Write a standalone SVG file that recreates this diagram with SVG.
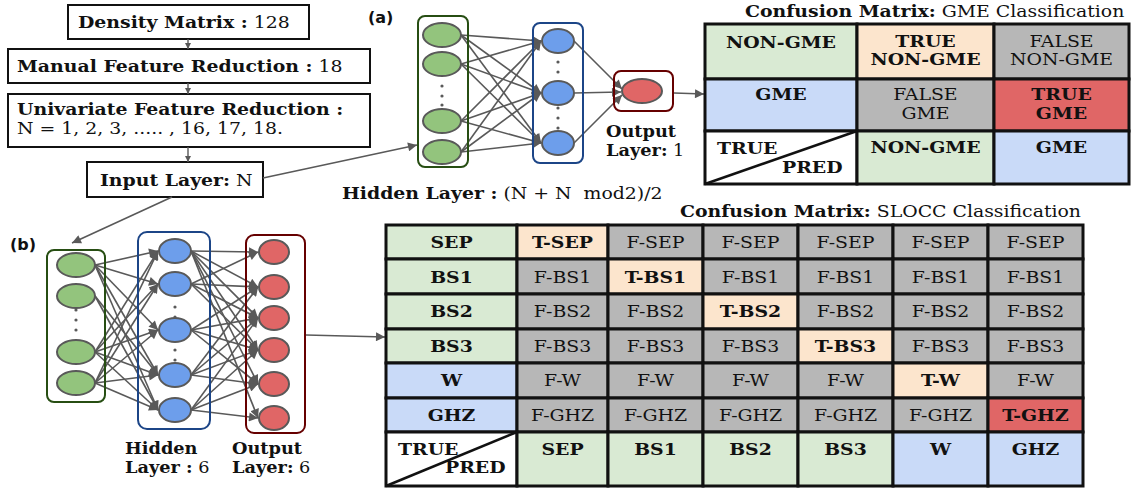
<svg xmlns="http://www.w3.org/2000/svg" width="1133" height="490" viewBox="0 0 1133 490">
<style>
.t{font-family:"DejaVu Serif",serif;font-size:17px;fill:#111}
.s{font-size:16px}
.b{font-weight:bold}
.c{text-anchor:middle}
.lab{font-family:"DejaVu Sans",sans-serif;font-size:16px;font-weight:bold;fill:#111}
.box{fill:#fff;stroke:#111;stroke-width:2}
.e{stroke:#595959;stroke-width:1.6;fill:none;marker-end:url(#ah)}
.f{stroke:#595959;stroke-width:1.4;fill:none;marker-end:url(#ahs)}
.ng{fill:#93c47d;stroke:#595959;stroke-width:2}
.nb{fill:#6d9eeb;stroke:#595959;stroke-width:2}
.nr{fill:#e06666;stroke:#595959;stroke-width:2}
.gb{fill:none;stroke:#274e13;stroke-width:2}
.bb{fill:none;stroke:#1c4587;stroke-width:2}
.rb{fill:none;stroke:#660000;stroke-width:2}
.dot{fill:#595959}
.cell{stroke:#111;stroke-width:3}
.G{fill:#d9ead3}.P{fill:#fce5cd}.Y{fill:#b7b7b7}.B{fill:#c9daf8}.R{fill:#e06666}.W{fill:#fff}
</style>
<defs>
<marker id="ah" viewBox="0 0 10 10" refX="10" refY="5" markerWidth="12" markerHeight="9" markerUnits="userSpaceOnUse" orient="auto"><path d="M0,0 L10,5 L0,10 z" fill="#595959"/></marker>
<marker id="ahs" viewBox="0 0 10 10" refX="10" refY="5" markerWidth="6" markerHeight="6" markerUnits="userSpaceOnUse" orient="auto"><path d="M0,0 L10,5 L0,10 z" fill="#595959"/></marker>
</defs>

<g id="density"><rect class="box" x="68" y="5" width="241" height="34"/><g transform="scale(1.11,1)"><text class="t" x="70.27" y="28"><tspan class="b">Density Matrix :</tspan> 128</text></g></g>
<g id="manual"><rect class="box" x="8" y="49" width="362" height="34"/><g transform="scale(1.11,1)"><text class="t" x="15.32" y="72"><tspan class="b">Manual Feature Reduction :</tspan> 18</text></g></g>
<g id="univariate"><rect class="box" x="8" y="94" width="362" height="53"/><g transform="scale(1.11,1)"><text class="t" x="15.32" y="115"><tspan class="b">Univariate Feature Reduction :</tspan><tspan x="15.32" y="134">N = 1, 2, 3, ..... , 16, 17, 18.</tspan></text></g></g>
<g id="input"><rect class="box" x="87" y="162" width="176" height="35"/><g transform="scale(1.11,1)"><text class="t" x="90.09" y="186"><tspan class="b">Input Layer:</tspan> N</text></g></g>

<text class="lab" x="368" y="23">(a)</text>
<text class="lab" x="10" y="250">(b)</text>

<g id="connectors">
<line class="f" x1="188" y1="39" x2="188" y2="49"/>
<line class="f" x1="188" y1="83" x2="188" y2="94"/>
<line class="f" x1="188" y1="147" x2="188" y2="162"/>
<line class="e" x1="263" y1="178" x2="417" y2="145"/>
<line class="e" x1="172" y1="197" x2="72" y2="243"/>
<line class="e" x1="674" y1="93" x2="704" y2="94"/>
<line class="e" x1="306" y1="335" x2="385" y2="337"/>
<line class="e" x1="461" y1="35" x2="541" y2="41"/><line class="e" x1="461" y1="35" x2="541" y2="93"/><line class="e" x1="461" y1="35" x2="541" y2="143"/>
<line class="e" x1="461" y1="64" x2="541" y2="41"/><line class="e" x1="461" y1="64" x2="541" y2="93"/><line class="e" x1="461" y1="64" x2="541" y2="143"/>
<line class="e" x1="461" y1="121" x2="541" y2="41"/><line class="e" x1="461" y1="121" x2="541" y2="93"/><line class="e" x1="461" y1="121" x2="541" y2="143"/>
<line class="e" x1="461" y1="152" x2="541" y2="41"/><line class="e" x1="461" y1="152" x2="541" y2="93"/><line class="e" x1="461" y1="152" x2="541" y2="143"/>
<line class="e" x1="574" y1="41" x2="622" y2="89"/><line class="e" x1="574" y1="93" x2="621" y2="92"/><line class="e" x1="574" y1="143" x2="622" y2="95"/>
<line class="e" x1="95" y1="265" x2="158" y2="251"/><line class="e" x1="95" y1="265" x2="158" y2="284"/><line class="e" x1="95" y1="265" x2="158" y2="330"/><line class="e" x1="95" y1="265" x2="158" y2="375"/><line class="e" x1="95" y1="265" x2="158" y2="410"/>
<line class="e" x1="95" y1="296" x2="158" y2="375"/><line class="e" x1="95" y1="296" x2="158" y2="410"/>
<line class="e" x1="95" y1="352" x2="158" y2="251"/><line class="e" x1="95" y1="352" x2="158" y2="284"/><line class="e" x1="95" y1="352" x2="158" y2="330"/><line class="e" x1="95" y1="352" x2="158" y2="375"/><line class="e" x1="95" y1="352" x2="158" y2="410"/>
<line class="e" x1="95" y1="383" x2="158" y2="251"/><line class="e" x1="95" y1="383" x2="158" y2="284"/><line class="e" x1="95" y1="383" x2="158" y2="330"/><line class="e" x1="95" y1="383" x2="158" y2="375"/><line class="e" x1="95" y1="383" x2="158" y2="410"/>
<line class="e" x1="191" y1="251" x2="258" y2="252"/><line class="e" x1="191" y1="251" x2="258" y2="287"/><line class="e" x1="191" y1="251" x2="258" y2="318"/><line class="e" x1="191" y1="251" x2="258" y2="350"/><line class="e" x1="191" y1="251" x2="258" y2="384"/><line class="e" x1="191" y1="251" x2="258" y2="418"/>
<line class="e" x1="191" y1="284" x2="258" y2="252"/><line class="e" x1="191" y1="284" x2="258" y2="287"/><line class="e" x1="191" y1="284" x2="258" y2="318"/><line class="e" x1="191" y1="284" x2="258" y2="350"/>
<line class="e" x1="191" y1="330" x2="258" y2="287"/><line class="e" x1="191" y1="330" x2="258" y2="318"/><line class="e" x1="191" y1="330" x2="258" y2="350"/><line class="e" x1="191" y1="330" x2="258" y2="384"/>
<line class="e" x1="191" y1="375" x2="258" y2="287"/><line class="e" x1="191" y1="375" x2="258" y2="318"/><line class="e" x1="191" y1="375" x2="258" y2="350"/><line class="e" x1="191" y1="375" x2="258" y2="384"/>
<line class="e" x1="191" y1="410" x2="258" y2="318"/><line class="e" x1="191" y1="410" x2="258" y2="350"/><line class="e" x1="191" y1="410" x2="258" y2="384"/><line class="e" x1="191" y1="410" x2="258" y2="418"/>
</g>

<g id="net-a-input"><rect class="gb" x="418" y="16" width="50" height="151" rx="7"/>
<ellipse class="ng" cx="442" cy="35" rx="19" ry="12"/><ellipse class="ng" cx="442" cy="64" rx="19" ry="12"/><ellipse class="ng" cx="442" cy="121" rx="19" ry="12"/><ellipse class="ng" cx="442" cy="152" rx="19" ry="12"/>
<circle class="dot" cx="442" cy="86" r="1.6"/><circle class="dot" cx="442" cy="96" r="1.6"/><circle class="dot" cx="442" cy="105" r="1.6"/></g>
<g id="net-a-hidden"><rect class="bb" x="533" y="23" width="50" height="140" rx="7"/>
<ellipse class="nb" cx="558" cy="41" rx="16" ry="12"/><ellipse class="nb" cx="558" cy="93" rx="16" ry="12"/><ellipse class="nb" cx="558" cy="143" rx="16" ry="12"/>
<circle class="dot" cx="558" cy="62" r="1.6"/><circle class="dot" cx="558" cy="72" r="1.6"/><circle class="dot" cx="558" cy="108" r="1.6"/><circle class="dot" cx="558" cy="118" r="1.6"/><circle class="dot" cx="558" cy="128" r="1.6"/>
<g transform="scale(1.11,1)"><text class="t" x="308.11" y="199" xml:space="preserve"><tspan class="b">Hidden Layer :</tspan> (N + N  mod2)/2</text></g></g>
<g id="net-a-output"><rect class="rb" x="614" y="71" width="59" height="40" rx="7"/><ellipse class="nr" cx="642" cy="91" rx="20" ry="12"/>
<g transform="scale(1.11,1)"><text class="t s" x="545.95" y="137"><tspan class="b">Output</tspan><tspan x="545.95" y="156" class="b">Layer:</tspan> 1</text></g></g>

<g id="net-b-input"><rect class="gb" x="47" y="250" width="58" height="152" rx="7"/>
<ellipse class="ng" cx="76" cy="265" rx="19" ry="12"/><ellipse class="ng" cx="76" cy="296" rx="19" ry="12"/><ellipse class="ng" cx="76" cy="352" rx="19" ry="12"/><ellipse class="ng" cx="76" cy="383" rx="19" ry="12"/>
<circle class="dot" cx="76" cy="310" r="1.6"/><circle class="dot" cx="76" cy="320" r="1.6"/><circle class="dot" cx="76" cy="330" r="1.6"/></g>
<g id="net-b-hidden"><rect class="bb" x="138" y="232" width="72" height="197" rx="9"/>
<ellipse class="nb" cx="175" cy="251" rx="16" ry="12"/><ellipse class="nb" cx="175" cy="284" rx="16" ry="12"/><ellipse class="nb" cx="175" cy="330" rx="16" ry="12"/><ellipse class="nb" cx="175" cy="375" rx="16" ry="12"/><ellipse class="nb" cx="175" cy="410" rx="16" ry="12"/>
<circle class="dot" cx="175" cy="307" r="1.6"/><circle class="dot" cx="175" cy="317" r="1.6"/><circle class="dot" cx="175" cy="350" r="1.6"/><circle class="dot" cx="175" cy="360" r="1.6"/>
<g transform="scale(1.11,1)"><text class="t s" x="112.61" y="454"><tspan class="b">Hidden</tspan><tspan x="112.61" y="473" class="b">Layer :</tspan> 6</text></g></g>
<g id="net-b-output"><rect class="rb" x="246" y="235" width="59" height="198" rx="8"/>
<ellipse class="nr" cx="274" cy="252" rx="15" ry="12"/><ellipse class="nr" cx="274" cy="287" rx="15" ry="12"/><ellipse class="nr" cx="274" cy="318" rx="15" ry="12"/><ellipse class="nr" cx="274" cy="350" rx="15" ry="12"/><ellipse class="nr" cx="274" cy="384" rx="15" ry="12"/><ellipse class="nr" cx="274" cy="418" rx="15" ry="12"/>
<g transform="scale(1.11,1)"><text class="t s" x="209.01" y="454"><tspan class="b">Output</tspan><tspan x="209.01" y="473" class="b">Layer:</tspan> 6</text></g></g>

<g id="gme-matrix">
<rect class="cell G" x="705" y="24" width="152" height="55"/><rect class="cell P" x="857" y="24" width="137" height="55"/><rect class="cell Y" x="994" y="24" width="135" height="55"/>
<rect class="cell B" x="705" y="79" width="152" height="52"/><rect class="cell Y" x="857" y="79" width="137" height="52"/><rect class="cell R" x="994" y="79" width="135" height="52"/>
<rect class="cell W" x="705" y="131" width="152" height="53"/><rect class="cell G" x="857" y="131" width="137" height="53"/><rect class="cell B" x="994" y="131" width="135" height="53"/>
<line x1="705" y1="184" x2="857" y2="131" stroke="#111" stroke-width="2.5"/>
<g transform="scale(1.11,1)">
<text class="t" x="671.17" y="17"><tspan class="b">Confusion Matrix:</tspan> GME Classification</text>
<text class="t b c" x="703.6" y="48">NON-GME</text>
<text class="t b c" x="833.78" y="47">TRUE<tspan x="833.78" y="65">NON-GME</tspan></text>
<text class="t c" x="956.31" y="47">FALSE<tspan x="956.31" y="65">NON-GME</tspan></text>
<text class="t b c" x="703.6" y="100">GME</text>
<text class="t c" x="833.78" y="100">FALSE<tspan x="833.78" y="119">GME</tspan></text>
<text class="t b c" x="956.31" y="100">TRUE<tspan x="956.31" y="119">GME</tspan></text>
<text class="t b" x="645.95" y="154">TRUE<tspan x="704.5" y="173">PRED</tspan></text>
<text class="t b c" x="833.78" y="153">NON-GME</text>
<text class="t b c" x="956.31" y="153">GME</text>
</g>
</g>

<g id="slocc-matrix">
<rect class="cell G" x="386" y="225" width="131" height="34"/><rect class="cell P" x="517" y="225" width="91" height="34"/><rect class="cell Y" x="608" y="225" width="95" height="34"/><rect class="cell Y" x="703" y="225" width="95" height="34"/><rect class="cell Y" x="798" y="225" width="95" height="34"/><rect class="cell Y" x="893" y="225" width="95" height="34"/><rect class="cell Y" x="988" y="225" width="95" height="34"/>
<rect class="cell G" x="386" y="259" width="131" height="35"/><rect class="cell Y" x="517" y="259" width="91" height="35"/><rect class="cell P" x="608" y="259" width="95" height="35"/><rect class="cell Y" x="703" y="259" width="95" height="35"/><rect class="cell Y" x="798" y="259" width="95" height="35"/><rect class="cell Y" x="893" y="259" width="95" height="35"/><rect class="cell Y" x="988" y="259" width="95" height="35"/>
<rect class="cell G" x="386" y="294" width="131" height="35"/><rect class="cell Y" x="517" y="294" width="91" height="35"/><rect class="cell Y" x="608" y="294" width="95" height="35"/><rect class="cell P" x="703" y="294" width="95" height="35"/><rect class="cell Y" x="798" y="294" width="95" height="35"/><rect class="cell Y" x="893" y="294" width="95" height="35"/><rect class="cell Y" x="988" y="294" width="95" height="35"/>
<rect class="cell G" x="386" y="329" width="131" height="34"/><rect class="cell Y" x="517" y="329" width="91" height="34"/><rect class="cell Y" x="608" y="329" width="95" height="34"/><rect class="cell Y" x="703" y="329" width="95" height="34"/><rect class="cell P" x="798" y="329" width="95" height="34"/><rect class="cell Y" x="893" y="329" width="95" height="34"/><rect class="cell Y" x="988" y="329" width="95" height="34"/>
<rect class="cell B" x="386" y="363" width="131" height="35"/><rect class="cell Y" x="517" y="363" width="91" height="35"/><rect class="cell Y" x="608" y="363" width="95" height="35"/><rect class="cell Y" x="703" y="363" width="95" height="35"/><rect class="cell Y" x="798" y="363" width="95" height="35"/><rect class="cell P" x="893" y="363" width="95" height="35"/><rect class="cell Y" x="988" y="363" width="95" height="35"/>
<rect class="cell B" x="386" y="398" width="131" height="34"/><rect class="cell Y" x="517" y="398" width="91" height="34"/><rect class="cell Y" x="608" y="398" width="95" height="34"/><rect class="cell Y" x="703" y="398" width="95" height="34"/><rect class="cell Y" x="798" y="398" width="95" height="34"/><rect class="cell Y" x="893" y="398" width="95" height="34"/><rect class="cell R" x="988" y="398" width="95" height="34"/>
<rect class="cell W" x="386" y="432" width="131" height="54"/><rect class="cell G" x="517" y="432" width="91" height="54"/><rect class="cell G" x="608" y="432" width="95" height="54"/><rect class="cell G" x="703" y="432" width="95" height="54"/><rect class="cell G" x="798" y="432" width="95" height="54"/><rect class="cell B" x="893" y="432" width="95" height="54"/><rect class="cell B" x="988" y="432" width="95" height="54"/>
<line x1="386" y1="486" x2="517" y2="432" stroke="#111" stroke-width="2.5"/>
<g transform="scale(1.11,1)">
<text class="t" x="612.61" y="217"><tspan class="b">Confusion Matrix:</tspan> SLOCC Classification</text>
<text class="t b c" x="406.76" y="248">SEP</text><text class="t b c" x="506.76" y="248">T-SEP</text><text class="t c" x="590.54" y="248">F-SEP</text><text class="t c" x="676.13" y="248">F-SEP</text><text class="t c" x="761.71" y="248">F-SEP</text><text class="t c" x="847.3" y="248">F-SEP</text><text class="t c" x="932.88" y="248">F-SEP</text>
<text class="t b c" x="406.76" y="283">BS1</text><text class="t c" x="506.76" y="283">F-BS1</text><text class="t b c" x="590.54" y="283">T-BS1</text><text class="t c" x="676.13" y="283">F-BS1</text><text class="t c" x="761.71" y="283">F-BS1</text><text class="t c" x="847.3" y="283">F-BS1</text><text class="t c" x="932.88" y="283">F-BS1</text>
<text class="t b c" x="406.76" y="317">BS2</text><text class="t c" x="506.76" y="317">F-BS2</text><text class="t c" x="590.54" y="317">F-BS2</text><text class="t b c" x="676.13" y="317">T-BS2</text><text class="t c" x="761.71" y="317">F-BS2</text><text class="t c" x="847.3" y="317">F-BS2</text><text class="t c" x="932.88" y="317">F-BS2</text>
<text class="t b c" x="406.76" y="352">BS3</text><text class="t c" x="506.76" y="352">F-BS3</text><text class="t c" x="590.54" y="352">F-BS3</text><text class="t c" x="676.13" y="352">F-BS3</text><text class="t b c" x="761.71" y="352">T-BS3</text><text class="t c" x="847.3" y="352">F-BS3</text><text class="t c" x="932.88" y="352">F-BS3</text>
<text class="t b c" x="406.76" y="386">W</text><text class="t c" x="506.76" y="386">F-W</text><text class="t c" x="590.54" y="386">F-W</text><text class="t c" x="676.13" y="386">F-W</text><text class="t c" x="761.71" y="386">F-W</text><text class="t b c" x="847.3" y="386">T-W</text><text class="t c" x="932.88" y="386">F-W</text>
<text class="t b c" x="406.76" y="421">GHZ</text><text class="t c" x="506.76" y="421">F-GHZ</text><text class="t c" x="590.54" y="421">F-GHZ</text><text class="t c" x="676.13" y="421">F-GHZ</text><text class="t c" x="761.71" y="421">F-GHZ</text><text class="t c" x="847.3" y="421">F-GHZ</text><text class="t b c" x="932.88" y="421">T-GHZ</text>
<text class="t b" x="358.56" y="455">TRUE<tspan x="400.9" y="473">PRED</tspan></text>
<text class="t b c" x="506.76" y="455">SEP</text><text class="t b c" x="590.54" y="455">BS1</text><text class="t b c" x="676.13" y="455">BS2</text><text class="t b c" x="761.71" y="455">BS3</text><text class="t b c" x="847.3" y="455">W</text><text class="t b c" x="932.88" y="455">GHZ</text>
</g>
</g>
</svg>
